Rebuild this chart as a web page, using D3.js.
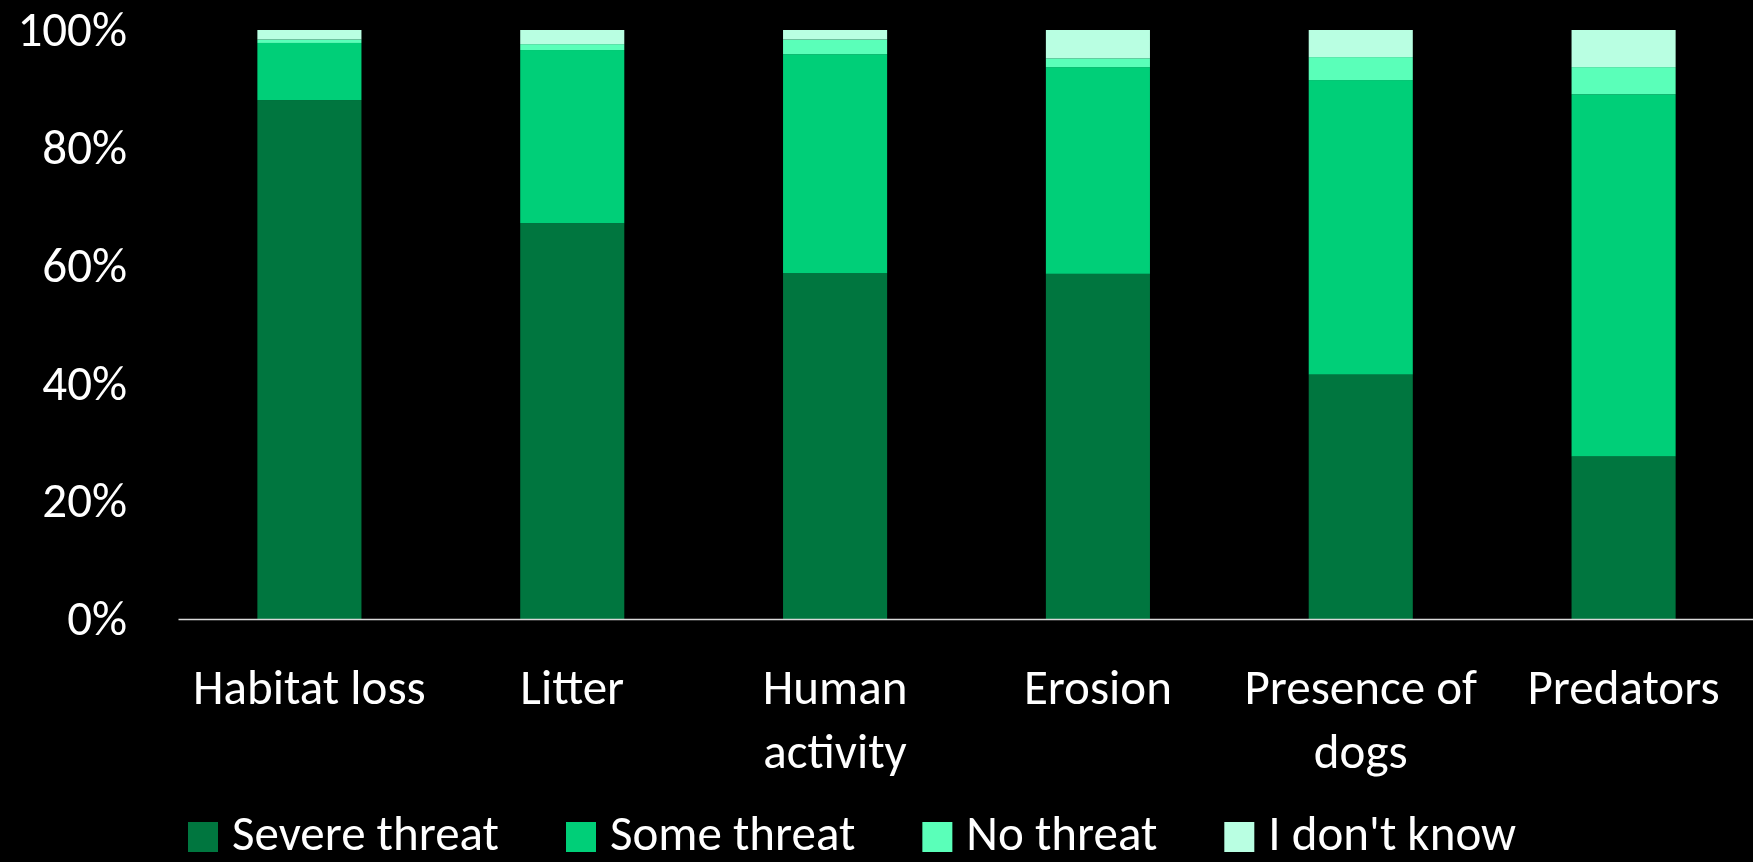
<!DOCTYPE html>
<html>
<head>
<meta charset="utf-8">
<script src="https://cdn.jsdelivr.net/npm/d3@7"></script>
<style>
  html, body { margin: 0; padding: 0; background: #000; }
  svg { display: block; }
  text { font-family: Carlito, Calibri, Lato, sans-serif; fill: #fff; }
</style>
</head>
<body>
<script>
// values (percent of answers)
var categories = ["Habitat loss", "Litter", "Human activity", "Erosion", "Presence of dogs", "Predators"];
var seriesNames = ["Severe threat", "Some threat", "No threat", "I don't know"];
var severe   = [88.1, 67.2, 58.7, 58.6, 41.5, 27.6];
var some     = [9.7, 29.4, 37.2, 35.1, 50.0, 61.5];
var noThreat = [0.6, 1.0, 2.5, 1.5, 3.9, 4.6];
var dontKnow = [1.6, 2.4, 1.6, 4.8, 4.6, 6.3];
var yTicks = [0, 20, 40, 60, 80, 100];
var colors = ["#00763f", "#00cf78", "#5affb9", "#b9ffe2"];

var width = 1753, height = 862;
var fontSize = 49;

var rows = categories.map(function (c, i) {
  return { cat: c, s0: severe[i], s1: some[i], s2: noThreat[i], s3: dontKnow[i] };
});
var keys = ["s0", "s1", "s2", "s3"];
var stacked = d3.stack().keys(keys)(rows);

var svg = d3.select("body").append("svg")
    .attr("width", width)
    .attr("height", height);

var x = d3.scaleBand()
    .domain(categories)
    .range([178, 1755])
    .paddingInner(0.604)
    .paddingOuter(0.302);

var y = d3.scaleLinear()
    .domain([0, 100])
    .range([619, 30]);

var color = d3.scaleOrdinal().domain(keys).range(colors);

// bars
svg.append("g").selectAll("g")
  .data(stacked)
  .enter().append("g")
    .attr("fill", function (d) { return color(d.key); })
  .selectAll("rect")
  .data(function (d) { return d; })
  .enter().append("rect")
    .attr("x", function (d) { return x(d.data.cat); })
    .attr("y", function (d) { return y(d[1]); })
    .attr("width", x.bandwidth())
    .attr("height", function (d) { return y(d[0]) - y(d[1]); });

// y axis (labels only)
var yAxis = svg.append("g")
    .attr("transform", "translate(178,0)")
    .call(d3.axisLeft(y).tickValues(yTicks).tickSize(0).tickPadding(51)
      .tickFormat(function (d) { return d + "%"; }));
yAxis.select(".domain").remove();
yAxis.selectAll("text")
    .style("font-size", fontSize + "px")
    .attr("fill", "#fff");

// x axis line
var xAxis = svg.append("g")
    .attr("transform", "translate(0," + y(0) + ")")
    .call(d3.axisBottom(x).tickSize(0).tickFormat(""));
xAxis.select(".domain").attr("stroke", "#d9d9d9").attr("stroke-width", 1.5);

// category labels, wrapped to the band width
var labels = svg.append("g").selectAll("text")
  .data(categories)
  .enter().append("text")
    .attr("text-anchor", "middle")
    .attr("x", function (d) { return x(d) + x.bandwidth() / 2; })
    .attr("y", 704)
    .style("font-size", fontSize + "px");

labels.each(function (d) {
  var el = d3.select(this);
  var words = d.split(" ");
  var line = [];
  var lines = [];
  var tspan = el.append("tspan");
  words.forEach(function (w) {
    line.push(w);
    tspan.text(line.join(" "));
    if (tspan.node().getComputedTextLength() > x.step() - 8 && line.length > 1) {
      line.pop();
      lines.push(line.join(" "));
      line = [w];
    }
  });
  lines.push(line.join(" "));
  tspan.remove();
  lines.forEach(function (l, i) {
    el.append("tspan")
      .attr("x", x(d) + x.bandwidth() / 2)
      .attr("dy", i === 0 ? 0 : 64)
      .text(l);
  });
});

// legend
var legend = svg.append("g");
var lx = 188;
seriesNames.forEach(function (name, i) {
  legend.append("rect")
    .attr("x", lx)
    .attr("y", 822)
    .attr("width", 30)
    .attr("height", 30)
    .attr("fill", colors[i]);
  var t = legend.append("text")
    .attr("x", lx + 44)
    .attr("y", 850)
    .style("font-size", fontSize + "px")
    .text(name);
  lx += 44 + t.node().getComputedTextLength() + 67;
});
</script>
</body>
</html>
